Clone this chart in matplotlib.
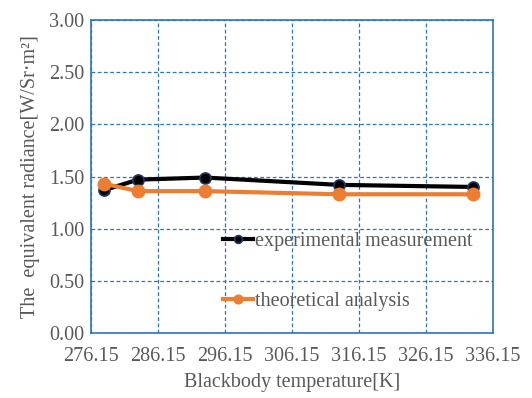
import matplotlib.pyplot as plt

# Blackbody temperature [K] and equivalent radiance values
temps = [278.15, 283.15, 293.15, 313.15, 333.15]
experimental = [1.37, 1.47, 1.49, 1.42, 1.40]
theoretical = [1.43, 1.36, 1.36, 1.33, 1.33]
x_ticks = [276.15, 286.15, 296.15, 306.15, 316.15, 326.15, 336.15]
y_ticks = [0.0, 0.5, 1.0, 1.5, 2.0, 2.5, 3.0]

plt.rcParams['font.family'] = ['Liberation Serif', 'DejaVu Serif']
text_col = "#595959"
blue = "#2E75B6"

fig, ax = plt.subplots(figsize=(5.32, 3.98), dpi=100)
fig.subplots_adjust(left=0.171, right=0.927, top=0.950, bottom=0.163)

ax.plot(temps, experimental, color="black", lw=3, marker="o", ms=8,
        mfc="black", mec="#1F3864", mew=1.2, label="experimental measurement")
ax.plot(temps, theoretical, color="#ED7D31", lw=3, marker="o", ms=9,
        mfc="#ED7D31", mec="#ED7D31", label="theoretical analysis")

ax.set_xlim(276.15, 336.15)
ax.set_ylim(0, 3.0)
ax.set_xticks(x_ticks)
ax.set_xticklabels([f"{t:.2f}" for t in x_ticks])
ax.set_yticks(y_ticks)
ax.set_yticklabels([f"{v:.2f}" for v in y_ticks])
ax.tick_params(length=0, labelsize=14.5, colors=text_col)
ax.tick_params(axis="x", pad=10)
ax.tick_params(axis="y", pad=5)

ax.grid(True, color=blue, ls=(0, (3, 2)), lw=0.9)
ax.set_axisbelow(True)
for s in ax.spines.values():
    s.set_color(blue)
    s.set_linewidth(1.2)

ax.set_xlabel("Blackbody temperature[K]", fontsize=14.5, color=text_col, labelpad=5)
ax.set_ylabel("The  equivalent radiance[W/Sr·m²]", fontsize=14.5, color=text_col, labelpad=6)

leg = ax.legend(loc="upper left", bbox_to_anchor=(0.328, 0.322), frameon=False,
                fontsize=14.5, labelspacing=2.0, handlelength=1.5, handletextpad=0.1,
                borderpad=0, borderaxespad=0, markerscale=0.7)
for t in leg.get_texts():
    t.set_color(text_col)

fig.savefig("out.png", dpi=100)
